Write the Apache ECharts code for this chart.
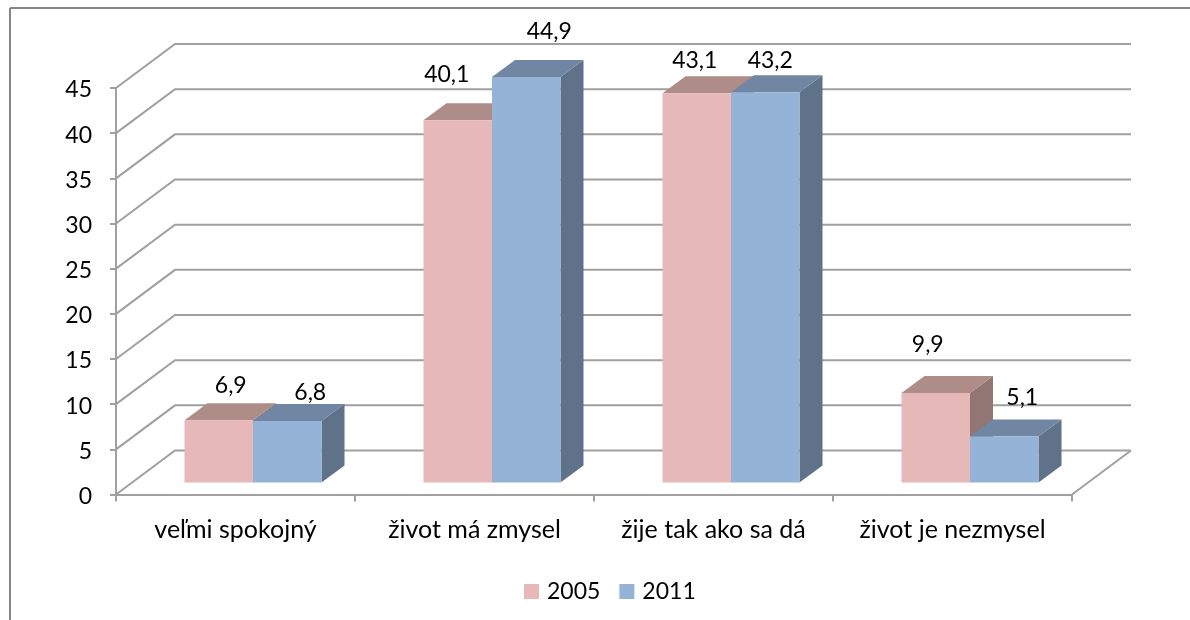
<!DOCTYPE html>
<html>
<head>
<meta charset="utf-8">
<style>
	html, body { margin: 0; padding: 0; background: #fff; }
	#chart { width: 1190px; height: 620px; }
</style>
<script src="https://cdn.jsdelivr.net/npm/echarts@6/dist/echarts.min.js"></script>
</head>
<body>
<div id="chart"></div>
<script>
var categories = ['veľmi spokojný', 'život má zmysel', 'žije tak ako sa dá', 'život je nezmysel']
var seriesNames = ['2005', '2011']
var values2005 = [6.9, 40.1, 43.1, 9.9]
var values2011 = [6.8, 44.9, 43.2, 5.1]
var yTicks = [0, 5, 10, 15, 20, 25, 30, 35, 40, 45]

// posun popisov voci stredu vrchu stlpca, v originale su ulozene rucne
var labelShift2005 = [[12, -35], [-11, -46], [-2, -33], [-8, -48]]
var labelShift2011 = [[23, -28], [23, -45], [5, -32], [18, -39]]

var FONT = 'Lato'
var GRID_COLOR = '#a0a0a0'
var WALL_DX = 59, WALL_DY = -44
var FRONT_DX = 17.5, FRONT_DY = -12
var BAR_DX = 23, BAR_DY = -17
var BAR_RATIO = 0.2866

var toLabel = function (v) {
	return String(v).replace('.', ',')
}

// zadna stena a podlaha
var renderWall = function (params, api) {
	var y = api.coord([0, api.value(0)])[1]
	var left = params.coordSys.x
	var right = left + params.coordSys.width
	var style = { stroke: GRID_COLOR, lineWidth: 2, fill: null }
	var children = [{
		type: 'polyline',
		shape: { points: [[left, y], [left + WALL_DX, y + WALL_DY], [right + WALL_DX, y + WALL_DY]] },
		style: style
	}]
	if (api.value(0) === 0) {
		children.push({
			type: 'line',
			shape: { x1: right, y1: y, x2: right + WALL_DX, y2: y + WALL_DY },
			style: style
		})
	}
	return { type: 'group', children: children }
}

var makeBarRender = function (side, colors, shifts) {
	return function (params, api) {
		var catIndex = api.value(0)
		var val = api.value(1)
		var top = api.coord([catIndex, val])
		var base = api.coord([catIndex, 0])
		var w = api.size([1, 0])[0] * BAR_RATIO
		var x0 = top[0] + FRONT_DX + (side === 0 ? -w : 0)
		var x1 = x0 + w
		var yt = top[1] + FRONT_DY
		var yb = base[1] + FRONT_DY
		var shift = shifts[params.dataIndex]
		return {
			type: 'group',
			children: [
				{ type: 'polygon', shape: { points: [[x1, yt], [x1 + BAR_DX, yt + BAR_DY], [x1 + BAR_DX, yb + BAR_DY], [x1, yb]] }, style: { fill: colors.side } },
				{ type: 'polygon', shape: { points: [[x0, yt], [x0 + BAR_DX, yt + BAR_DY], [x1 + BAR_DX, yt + BAR_DY], [x1, yt]] }, style: { fill: colors.top } },
				{ type: 'rect', shape: { x: x0, y: yt, width: w, height: yb - yt }, style: { fill: colors.front } },
				{
					type: 'text',
					z2: 10,
					style: {
						text: toLabel(val),
						x: (x0 + x1) / 2 + shift[0],
						y: yt + shift[1],
						align: 'center',
						verticalAlign: 'middle',
						fill: '#000',
						font: '23px ' + FONT
					}
				}
			]
		}
	}
}

var pink = { front: '#e6b8b7', top: '#ae8c88', side: '#917674' }
var blue = { front: '#95b3d7', top: '#7086a3', side: '#5f728a' }

var myChart = echarts.init(document.getElementById('chart'), null, { renderer: 'canvas' })
var option = {
	animation: false,
	backgroundColor: '#fff',
	textStyle: { fontFamily: FONT },
	grid: { left: 116, right: 118, top: 88, bottom: 125.5 },
	legend: {
		data: seriesNames,
		left: 519,
		top: 575,
		icon: 'rect',
		itemWidth: 15,
		itemHeight: 15,
		itemGap: 19,
		textStyle: { fontSize: 23, color: '#000', fontFamily: FONT, padding: [0, 0, 0, 3] }
	},
	graphic: [
		{ type: 'line', shape: { x1: 10, y1: 8, x2: 1190, y2: 8 }, style: { stroke: '#868686', lineWidth: 2 } },
		{ type: 'line', shape: { x1: 10, y1: 8, x2: 10, y2: 620 }, style: { stroke: '#868686', lineWidth: 2 } }
	],
	xAxis: {
		type: 'category',
		data: categories,
		axisLine: { show: true, lineStyle: { color: GRID_COLOR, width: 2 } },
		axisTick: { show: true, interval: 0, length: 7, lineStyle: { color: GRID_COLOR, width: 2 } },
		axisLabel: { interval: 0, color: '#000', fontSize: 25, margin: 23, fontFamily: FONT }
	},
	yAxis: {
		type: 'value',
		min: 0,
		max: 45,
		interval: 5,
		splitLine: { show: false },
		axisLine: { show: true, lineStyle: { color: GRID_COLOR, width: 2 } },
		axisTick: { show: true, length: 6, lineStyle: { color: GRID_COLOR, width: 2 } },
		axisLabel: {
			margin: 24,
			formatter: '{num|{value}}',
			rich: { num: { color: '#000', fontSize: 23, fontFamily: FONT, padding: [4, 0, 0, 0] } }
		}
	},
	series: [
		{
			type: 'custom',
			name: 'wall',
			z: 1,
			silent: true,
			data: yTicks.map(function (t) { return [t] }),
			encode: { y: 0 },
			renderItem: renderWall
		},
		{
			type: 'custom',
			name: seriesNames[0],
			z: 2,
			itemStyle: { color: pink.front },
			data: values2005.map(function (v, i) { return [i, v] }),
			encode: { x: 0, y: 1 },
			renderItem: makeBarRender(0, pink, labelShift2005)
		},
		{
			type: 'custom',
			name: seriesNames[1],
			z: 3,
			itemStyle: { color: blue.front },
			data: values2011.map(function (v, i) { return [i, v] }),
			encode: { x: 0, y: 1 },
			renderItem: makeBarRender(1, blue, labelShift2011)
		}
	]
}
myChart.setOption(option)
</script>
</body>
</html>
